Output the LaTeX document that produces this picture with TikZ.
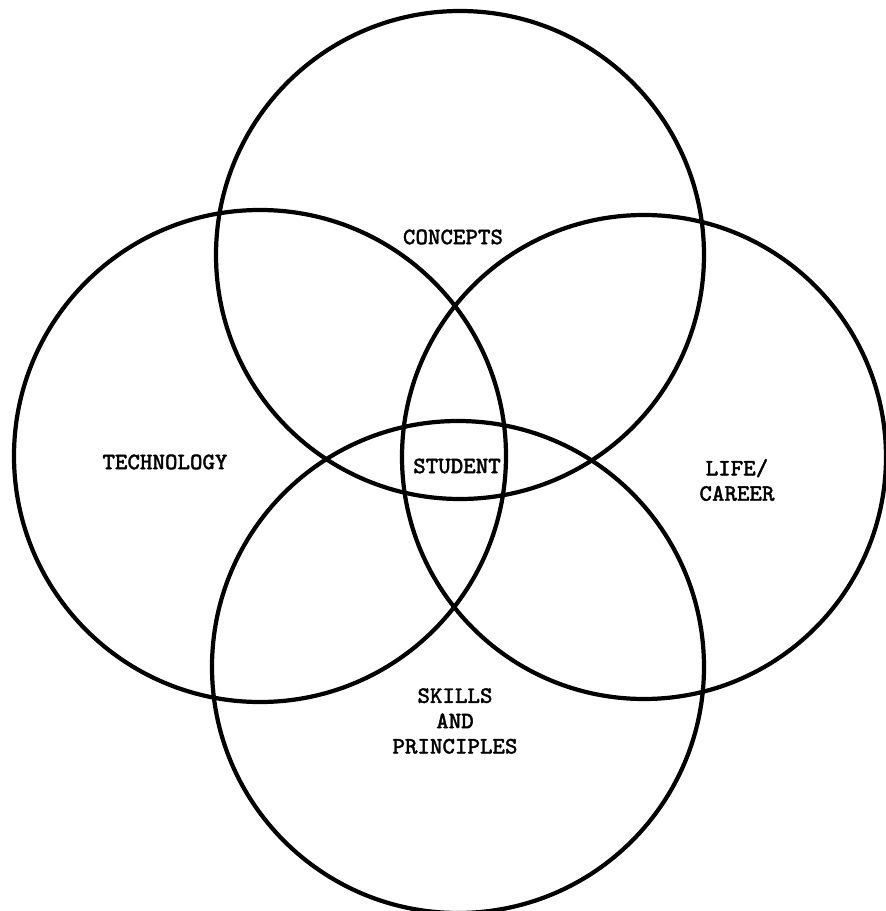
\documentclass[tikz,border=0pt]{standalone}
\usepackage{fontspec}
\usepackage{tikz}
\newfontfamily\typewfont[FakeBold=1.6]{Latin Modern Mono}

\tikzset{
  ring/.style={line width=1.2pt},
  lbl/.style={font=\typewfont\fontsize{6.7}{7.2}\selectfont, align=center, inner sep=0pt}
}

\begin{document}
\begin{tikzpicture}
  \useasboundingbox (0,0) rectangle (8.86,9.11);
  \draw[ring] (4.60,6.56) circle (2.44);
  \draw[ring] (2.60,4.55) circle (2.46);
  \draw[ring] (6.44,4.54) circle (2.42);
  \draw[ring] (4.58,2.44) circle (2.46);
  \node[lbl] (concepts) at (4.53,6.74) {CONCEPTS};
  \node[lbl] (technology) at (1.65,4.49) {TECHNOLOGY};
  \node[lbl] (student) at (4.57,4.45) {STUDENT};
  \node[lbl] (life) at (7.37,4.31) {LIFE/\\CAREER};
  \node[lbl] (skills) at (4.55,1.90) {SKILLS\\AND\\PRINCIPLES};
\end{tikzpicture}
\end{document}
